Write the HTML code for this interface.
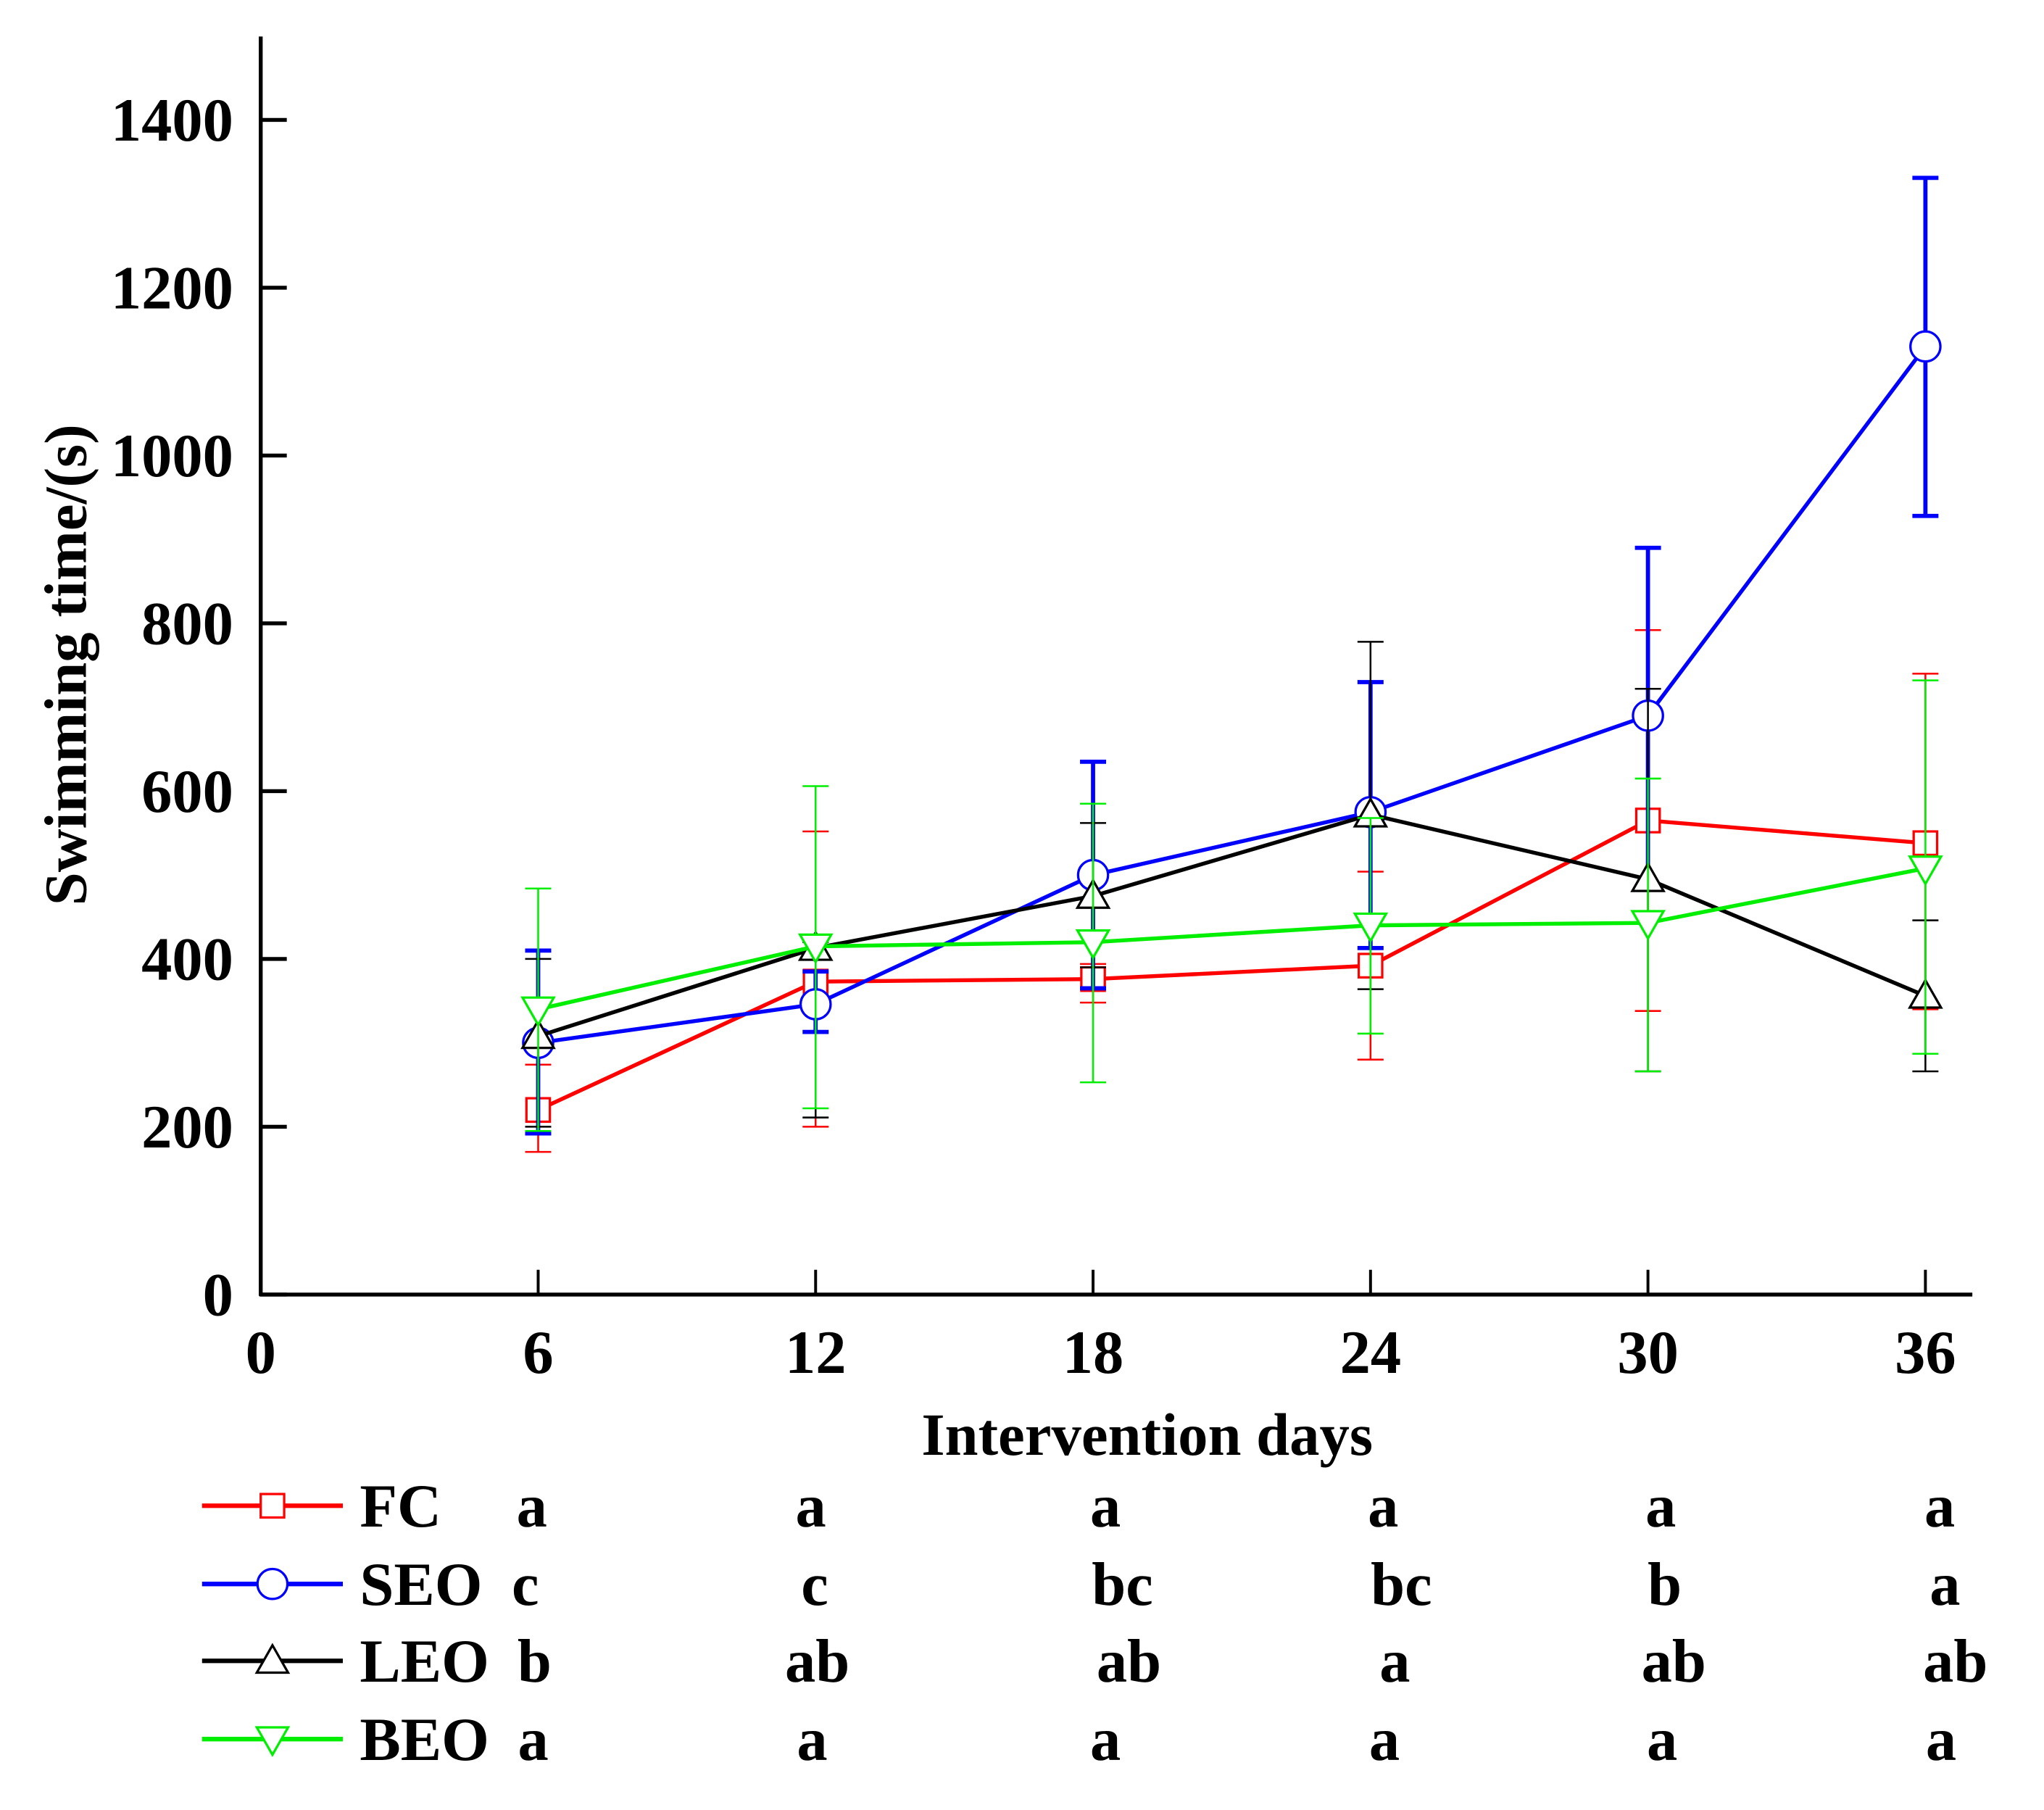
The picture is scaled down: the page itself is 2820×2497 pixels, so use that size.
<!DOCTYPE html>
<html><head><meta charset="utf-8"><style>
html,body{margin:0;padding:0;background:#fff}
svg text{font-family:"Liberation Serif",serif;font-weight:bold;fill:#000}
</style></head><body>
<svg id="chart" width="2820" height="2492" viewBox="0 0 2820 2492" xmlns="http://www.w3.org/2000/svg">
<rect width="2820" height="2492" fill="#fff"/>
<g id="root" transform="scale(1.7985)"></g>
</svg>
<script>
const days = [6, 12, 18, 24, 30, 36];
const xTicks = [0, 6, 12, 18, 24, 30, 36];
const yTicks = [0, 200, 400, 600, 800, 1000, 1200, 1400];
const seriesNames = ["FC", "SEO", "LEO", "BEO"];
const fcMean = [220, 373, 376, 392, 565, 538];
const fcLow = [170, 200, 348, 280, 338, 340];
const fcHigh = [274, 552, 394, 504, 792, 740];
const seoMean = [300, 346, 500, 575, 690, 1130];
const seoLow = [192, 313, 365, 413, 486, 928];
const seoHigh = [410, 385, 635, 730, 890, 1331];
const leoMean = [308, 413, 475, 572, 495, 356];
const leoLow = [200, 211, 390, 364, 266, 266];
const leoHigh = [400, 420, 562, 778, 722, 446];
const beoMean = [340, 415, 420, 440, 443, 508];
const beoLow = [195, 222, 253, 311, 266, 287];
const beoHigh = [484, 606, 585, 568, 615, 732];
const fcLetters = ["a","a","a","a","a","a"];
const seoLetters = ["c","c","bc","bc","b","a"];
const leoLetters = ["b","ab","ab","a","ab","ab"];
const beoLetters = ["a","a","a","a","a","a"];

const NS = "http://www.w3.org/2000/svg";
const root = document.getElementById("root");
function X(d){ return 200 + d * (1277/36); }
function Y(v){ return 993 - v * (901/1400); }
function mk(tag, attrs, parent){
  const e = document.createElementNS(NS, tag);
  for (const k in attrs) e.setAttribute(k, attrs[k]);
  (parent || root).appendChild(e);
  return e;
}
const yAxis = mk("line",{x1:200,y1:28,x2:200,y2:994,stroke:"#000","stroke-width":3});


const xAxis = mk("line",{x1:199,y1:993,x2:1513,y2:993,stroke:"#000","stroke-width":3});


yTicks.forEach(v=>{
  const t = mk("line",{x1:200,y1:Y(v),x2:220,y2:Y(v),stroke:"#000","stroke-width":3});
  
  
  const l = mk("text",{x:179,y:Y(v)+16,"text-anchor":"end","font-size":47});
  l.textContent = v;
  
  
});
xTicks.forEach(d=>{
  if (d>0){
    const t = mk("line",{x1:X(d),y1:993,x2:X(d),y2:974,stroke:"#000","stroke-width":2.2});
    
    
  }
  const l = mk("text",{x:X(d),y:1053,"text-anchor":"middle","font-size":47});
  l.textContent = d;
  
  
});
const yt = mk("text",{x:0,y:0,"text-anchor":"middle","font-size":46,transform:"translate(66,510) rotate(-90)"});
yt.textContent = "Swimming time/(s)";


const xt = mk("text",{x:880,y:1116,"text-anchor":"middle","font-size":46});
xt.textContent = "Intervention days";



function marker(shape, x, y, color, g){
  let m;
  if (shape==="square") m = mk("rect",{x:x-9,y:y-9,width:18,height:18,fill:"#fff",stroke:color,"stroke-width":1.8},g);
  else if (shape==="circle") m = mk("circle",{cx:x,cy:y,r:11.5,fill:"#fff",stroke:color,"stroke-width":1.8},g);
  else if (shape==="up") m = mk("polygon",{points:`${x},${y-12} ${x-12},${y+9} ${x+12},${y+9}`,fill:"#fff",stroke:color,"stroke-width":1.8},g);
  else m = mk("polygon",{points:`${x},${y+12} ${x-12},${y-9} ${x+12},${y-9}`,fill:"#fff",stroke:color,"stroke-width":1.8},g);
  return m;
}
const series = [
  {name:"fc",color:"#ff0000",shape:"square",mean:fcMean,lo:fcLow,hi:fcHigh,ew:1.4,letters:fcLetters,ly:1155,lx:[408,622,848,1061,1274,1488]},
  {name:"seo",color:"#0000ff",shape:"circle",mean:seoMean,lo:seoLow,hi:seoHigh,ew:3.2,letters:seoLetters,ly:1215,lx:[403,625,861,1075,1277,1492]},
  {name:"leo",color:"#000000",shape:"up",mean:leoMean,lo:leoLow,hi:leoHigh,ew:1.4,letters:leoLetters,ly:1274,lx:[410,627,866,1070,1284,1500]},
  {name:"beo",color:"#00ee00",shape:"down",mean:beoMean,lo:beoLow,hi:beoHigh,ew:1.4,letters:beoLetters,ly:1334,lx:[409,623,848,1062,1275,1489]}
];
series.forEach((s,si)=>{
  const g = mk("g",{});
  
  
  days.forEach((d,i)=>{
    const x = X(d);
    const e = mk("path",{d:`M${x},${Y(s.lo[i])}V${Y(s.hi[i])}M${x-10},${Y(s.lo[i])}H${x+10}M${x-10},${Y(s.hi[i])}H${x+10}`,stroke:s.color,"stroke-width":s.ew,fill:"none"},g);
    
    
  });
  const pts = days.map((d,i)=>X(d)+","+Y(s.mean[i])).join(" ");
  const pl = mk("polyline",{points:pts,fill:"none",stroke:s.color,"stroke-width":3},g);
  
  
  days.forEach((d,i)=>{
    const m = marker(s.shape, X(d), Y(s.mean[i]), s.color, g);
    
    
  });
  const lg = mk("g",{});
  
  
  mk("line",{x1:155,y1:s.ly,x2:263,y2:s.ly,stroke:s.color,"stroke-width":3.5},lg);
  marker(s.shape,209,s.ly,s.color,lg);
  const lt = mk("text",{x:276,y:s.ly+16,"font-size":47},lg);
  lt.textContent = seriesNames[si];
  
  
  s.letters.forEach((L,i)=>{
    const t = mk("text",{x:s.lx[i],y:s.ly+16,"text-anchor":"middle","font-size":47});
    t.textContent = L;
    
    
  });
});
</script>
</body></html>
